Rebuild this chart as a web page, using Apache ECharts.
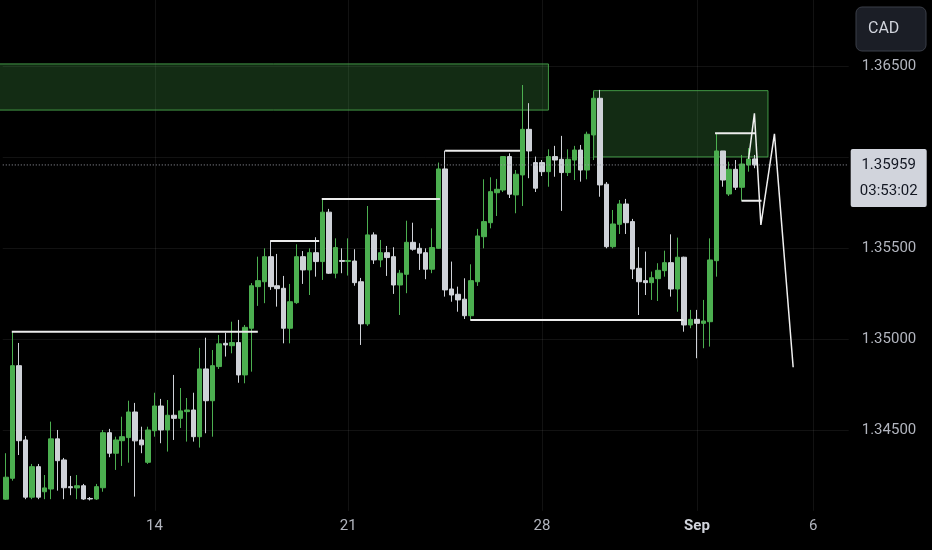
<!DOCTYPE html>
<html>
<head>
<meta charset="utf-8">
<script src="https://cdn.jsdelivr.net/npm/echarts@6/dist/echarts.min.js"></script>
<style>
  html, body { margin: 0; padding: 0; background: #000; }
  #chart { width: 932px; height: 550px; }
</style>
</head>
<body>
<div id="chart"></div>
<script>
// USDCAD 4h candles, Aug 8 - Sep 4, weekends skipped (bar index = position)
const candleOpen = [
  1.34119, 1.34234, 1.34854, 1.34445, 1.34130, 1.34298, 1.34160, 1.34175, 1.34451, 1.34335,
  1.34188, 1.34181, 1.34193, 1.34123, 1.34120, 1.34182, 1.34485, 1.34372, 1.34441, 1.34458,
  1.34599, 1.34445, 1.34322, 1.34496, 1.34632, 1.34500, 1.34581, 1.34564, 1.34601, 1.34610,
  1.34463, 1.34836, 1.34661, 1.34849, 1.34977, 1.34964, 1.34981, 1.34803, 1.35060, 1.35289,
  1.35316, 1.35454, 1.35294, 1.35280, 1.35060, 1.35201, 1.35454, 1.35381, 1.35476, 1.35427,
  1.35699, 1.35363, 1.35433, 1.35428, 1.35430, 1.35316, 1.35084, 1.35574, 1.35436, 1.35476,
  1.35454, 1.35298, 1.35357, 1.35533, 1.35500, 1.35476, 1.35385, 1.35500, 1.35937, 1.35276,
  1.35247, 1.35220, 1.35129, 1.35316, 1.35564, 1.35641, 1.35806, 1.35821, 1.36005, 1.35794,
  1.35904, 1.36155, 1.35972, 1.35972, 1.35922, 1.36005, 1.35990, 1.35917, 1.35986, 1.36041,
  1.35931, 1.36124, 1.36326, 1.35853, 1.35509, 1.35632, 1.35744, 1.35647, 1.35390, 1.35322,
  1.35311, 1.35333, 1.35377, 1.35421, 1.35276, 1.35451, 1.35078, 1.35109, 1.35087, 1.35096,
  1.35432, 1.36036, 1.35799, 1.35935, 1.35836, 1.35959, 1.35992
];
const candleHigh = [
  1.34372, 1.35041, 1.34979, 1.34467, 1.34313, 1.34313, 1.34252, 1.34546, 1.34500, 1.34346,
  1.34247, 1.34252, 1.34203, 1.34131, 1.34203, 1.34500, 1.34506, 1.34463, 1.34573, 1.34661,
  1.34649, 1.34518, 1.34518, 1.34705, 1.34671, 1.34665, 1.34803, 1.34731, 1.34676, 1.34705,
  1.34952, 1.35008, 1.34940, 1.35023, 1.35035, 1.35096, 1.35106, 1.35078, 1.35309, 1.35454,
  1.35500, 1.35540, 1.35469, 1.35348, 1.35304, 1.35522, 1.35485, 1.35500, 1.35561, 1.35772,
  1.35717, 1.35555, 1.35500, 1.35555, 1.35495, 1.35337, 1.35733, 1.35588, 1.35546, 1.35513,
  1.35506, 1.35381, 1.35652, 1.35641, 1.35528, 1.35500, 1.35610, 1.35972, 1.36038, 1.35427,
  1.35289, 1.35335, 1.35412, 1.35607, 1.35880, 1.35891, 1.35882, 1.36008, 1.36023, 1.35931,
  1.36399, 1.36299, 1.36005, 1.35986, 1.36045, 1.36064, 1.36119, 1.36045, 1.36064, 1.36069,
  1.36142, 1.36362, 1.36372, 1.35865, 1.35711, 1.35766, 1.35772, 1.35662, 1.35506, 1.35482,
  1.35372, 1.35418, 1.35487, 1.35577, 1.35559, 1.35454, 1.35161, 1.35161, 1.35216, 1.35555,
  1.36133, 1.36036, 1.35977, 1.35986, 1.36014, 1.36052, 1.36014
];
const candleLow = [
  1.34115, 1.34221, 1.34362, 1.34119, 1.34119, 1.34119, 1.34119, 1.34119, 1.34166, 1.34119,
  1.34141, 1.34119, 1.34115, 1.34112, 1.34115, 1.34160, 1.34350, 1.34280, 1.34302, 1.34320,
  1.34133, 1.34372, 1.34313, 1.34463, 1.34427, 1.34381, 1.34445, 1.34511, 1.34436, 1.34436,
  1.34403, 1.34482, 1.34463, 1.34836, 1.34904, 1.34922, 1.34760, 1.34757, 1.34821, 1.35183,
  1.35198, 1.35271, 1.35179, 1.34977, 1.34977, 1.35194, 1.35304, 1.35243, 1.35344, 1.35326,
  1.35359, 1.35335, 1.35363, 1.35350, 1.35294, 1.34968, 1.35073, 1.35414, 1.35396, 1.35348,
  1.35249, 1.35133, 1.35253, 1.35487, 1.35381, 1.35330, 1.35363, 1.35497, 1.35234, 1.35206,
  1.35151, 1.35111, 1.35106, 1.35293, 1.35500, 1.35610, 1.35678, 1.35810, 1.35777, 1.35693,
  1.35733, 1.35886, 1.35810, 1.35898, 1.35839, 1.35894, 1.35706, 1.35898, 1.35876, 1.35867,
  1.35880, 1.35986, 1.35784, 1.35500, 1.35500, 1.35579, 1.35579, 1.35331, 1.35133, 1.35243,
  1.35216, 1.35210, 1.35344, 1.35234, 1.35151, 1.35041, 1.35060, 1.34895, 1.34950, 1.34959,
  1.35344, 1.35839, 1.35788, 1.35821, 1.35762, 1.35922, 1.35941
];
const candleClose = [
  1.34240, 1.34854, 1.34441, 1.34130, 1.34298, 1.34130, 1.34181, 1.34451, 1.34331, 1.34182,
  1.34182, 1.34193, 1.34120, 1.34120, 1.34188, 1.34485, 1.34372, 1.34445, 1.34463, 1.34599,
  1.34440, 1.34418, 1.34500, 1.34632, 1.34500, 1.34581, 1.34564, 1.34605, 1.34610, 1.34463,
  1.34836, 1.34661, 1.34854, 1.34974, 1.34968, 1.34981, 1.34803, 1.35065, 1.35294, 1.35322,
  1.35454, 1.35289, 1.35278, 1.35060, 1.35206, 1.35454, 1.35381, 1.35476, 1.35427, 1.35699,
  1.35363, 1.35504, 1.35428, 1.35433, 1.35311, 1.35084, 1.35574, 1.35436, 1.35476, 1.35449,
  1.35298, 1.35363, 1.35533, 1.35495, 1.35473, 1.35385, 1.35504, 1.35937, 1.35271, 1.35243,
  1.35216, 1.35129, 1.35322, 1.35568, 1.35647, 1.35812, 1.35825, 1.36005, 1.35798, 1.35908,
  1.36155, 1.36036, 1.35831, 1.35922, 1.36005, 1.35986, 1.35917, 1.35990, 1.36041, 1.35931,
  1.36128, 1.36326, 1.35849, 1.35509, 1.35634, 1.35744, 1.35641, 1.35386, 1.35316, 1.35311,
  1.35338, 1.35379, 1.35421, 1.35276, 1.35451, 1.35078, 1.35109, 1.35087, 1.35100, 1.35436,
  1.36036, 1.35876, 1.35935, 1.35836, 1.35964, 1.35992, 1.35959
];

// time scale: bar index of the first bar of each labelled day
const dayTickBars = [23, 53, 83, 107, 125];
const dayTickLabels = ['14', '21', '28', 'Sep', '6'];
const barCount = 131;

// price scale
const priceTop = 1.36867;
const priceBottom = 1.34;
const priceStep = 0.005;

// drawn levels: [fromBar, toBar, price]
const levelLines = [
  [0.9, 39.0, 1.35041],
  [40.9, 48.5, 1.35540],
  [48.9, 67.2, 1.35772],
  [68.0, 79.6, 1.36037],
  [71.9, 104.9, 1.35106],
  [109.8, 116.0, 1.36133],
  [113.9, 117.0, 1.35762]
];
// supply zones: [fromBar, toBar, topPrice, bottomPrice]
const zones = [
  [-2, 84.0, 1.36515, 1.36261],
  [91.0, 118.0, 1.36368, 1.36003]
];
// projected path
const pathBars = [115, 115.9, 116.9, 119, 121.9];
const pathPrices = [1.35992, 1.36243, 1.35629, 1.36130, 1.34845];

const lastPrice = 1.35959;
const countdown = '03:53:02';
const currency = 'CAD';

const FONT = 'Roboto, "Noto Sans", sans-serif';
const GREEN = '#4caf50';
const GREY = '#cfd2d8';

const chart = echarts.init(document.getElementById('chart'), null, { renderer: 'canvas' });

const categories = Array.from({ length: barCount }, (_, i) => String(i));
const tickText = {};
dayTickBars.forEach((b, k) => { tickText[b] = dayTickLabels[k]; });

const candles = candleOpen.map((o, i) => [o, candleClose[i], candleLow[i], candleHigh[i]]);

const levelSeries = levelLines.map(([a, b, p]) => ({
  type: 'line',
  xAxisIndex: 1,
  silent: true,
  symbol: 'none',
  z: 5,
  lineStyle: { color: '#ececec', width: 2 },
  data: [[a, p], [b, p]]
}));

const option = {
  backgroundColor: '#000000',
  animation: false,
  grid: { left: 2.77, right: 83.3, top: 0, bottom: 29.2 },
  xAxis: [
    {
      type: 'category',
      data: categories,
      boundaryGap: true,
      axisLine: { show: false },
      axisTick: { show: false },
      splitLine: { show: false },
      axisLabel: {
        interval: 0,
        margin: 5,
        verticalAlign: 'middle',
        color: '#b2b5be',
        fontSize: 15,
        fontFamily: FONT,
        formatter: (v, i) => {
          const t = tickText[i];
          if (!t) return '';
          return t === 'Sep' ? '{b|Sep}' : t;
        },
        rich: { b: { fontWeight: 'bold', color: '#d1d4dc', fontSize: 15, fontFamily: FONT } }
      }
    },
    { type: 'value', min: -0.5, max: barCount - 0.5, show: false }
  ],
  yAxis: {
    type: 'value',
    position: 'right',
    min: priceBottom,
    max: priceTop,
    interval: priceStep,
    axisLine: { show: false },
    axisTick: { show: false },
    axisLabel: {
      margin: 13,
      color: '#b2b5be',
      fontSize: 15,
      fontFamily: FONT,
      showMinLabel: false,
      showMaxLabel: false,
      formatter: v => v.toFixed(5)
    },
    splitLine: {
      showMinLine: false,
      showMaxLine: false,
      lineStyle: { color: 'rgba(255,255,255,0.07)', width: 1 }
    }
  },
  series: [
    {
      // day grid lines
      type: 'custom',
      xAxisIndex: 1,
      silent: true,
      z: 0,
      data: dayTickBars.map(b => [b]),
      encode: { x: 0 },
      renderItem: (params, api) => {
        const x = Math.round(api.coord([api.value(0), priceTop])[0]) + 0.5;
        const cs = params.coordSys;
        return {
          type: 'line',
          shape: { x1: x, y1: cs.y, x2: x, y2: cs.y + cs.height - 10 },
          style: { stroke: 'rgba(255,255,255,0.07)', lineWidth: 1 }
        };
      }
    },
    {
      // supply zones
      type: 'custom',
      xAxisIndex: 1,
      silent: true,
      z: 1,
      data: zones,
      encode: { x: [0, 1], y: [2, 3] },
      renderItem: (params, api) => {
        const p1 = api.coord([api.value(0), api.value(2)]);
        const p2 = api.coord([api.value(1), api.value(3)]);
        return {
          type: 'rect',
          shape: { x: p1[0], y: p1[1], width: p2[0] - p1[0], height: p2[1] - p1[1] },
          style: { fill: 'rgba(76,175,80,0.25)', stroke: 'rgba(76,175,80,0.85)', lineWidth: 1 }
        };
      }
    },
    {
      type: 'candlestick',
      xAxisIndex: 0,
      z: 3,
      barWidth: 5,
      data: candles,
      itemStyle: {
        color: GREEN,
        color0: GREY,
        borderColor: GREEN,
        borderColor0: GREY,
        borderWidth: 1
      }
    },
    {
      // last price line
      type: 'line',
      xAxisIndex: 1,
      silent: true,
      symbol: 'none',
      z: 4,
      lineStyle: { color: '#9a9da6', width: 1, type: [1, 2] },
      data: [[-0.5, lastPrice], [barCount - 0.5, lastPrice]]
    },
    ...levelSeries,
    {
      type: 'line',
      xAxisIndex: 1,
      silent: true,
      symbol: 'none',
      z: 6,
      lineStyle: { color: '#f0f0f0', width: 1.5 },
      data: pathBars.map((b, i) => [b, pathPrices[i]])
    }
  ]
};

chart.setOption(option);

const lastY = chart.convertToPixel({ yAxisIndex: 0 }, lastPrice);
const boxX = 932 - 83.3 + 2;
chart.setOption({
  graphic: [
    {
      type: 'rect', z: 100,
      shape: { x: 856, y: 7, width: 70, height: 44, r: 6 },
      style: { fill: '#1b1e26', stroke: '#3a3e48', lineWidth: 1 }
    },
    {
      type: 'text', z: 101, x: 868, y: 29,
      style: { text: currency, fill: '#d1d4dc', font: '16px ' + FONT, verticalAlign: 'middle' }
    },
    {
      type: 'rect', z: 100,
      shape: { x: boxX, y: lastY - 16, width: 76, height: 58, r: 2 },
      style: { fill: '#d1d4dc' }
    },
    {
      type: 'text', z: 101, x: boxX + 38, y: lastY,
      style: { text: lastPrice.toFixed(5), fill: '#131722', font: '15px ' + FONT, align: 'center', verticalAlign: 'middle' }
    },
    {
      type: 'text', z: 101, x: boxX + 38, y: lastY + 26,
      style: { text: countdown, fill: '#131722', font: '15px ' + FONT, align: 'center', verticalAlign: 'middle' }
    }
  ]
});
</script>
</body>
</html>
